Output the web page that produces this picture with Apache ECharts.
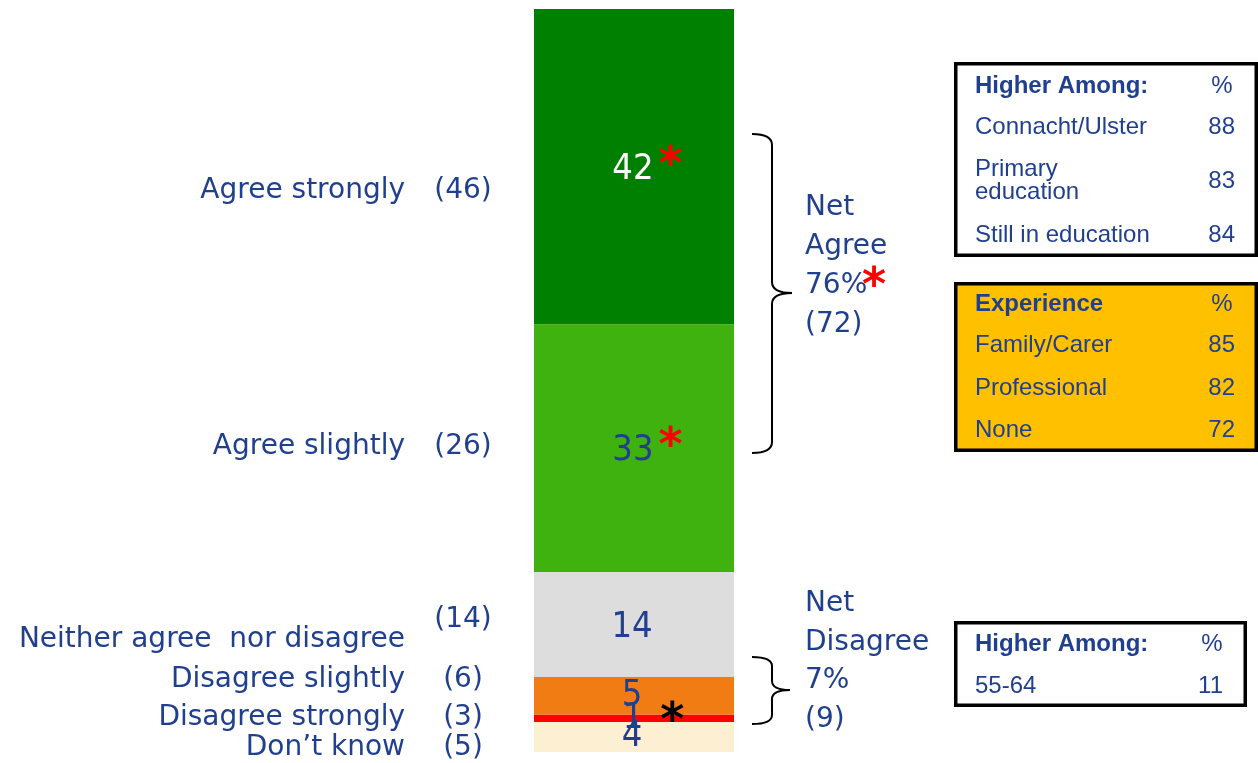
<!DOCTYPE html>
<html><head><meta charset="utf-8">
<script src="https://cdn.jsdelivr.net/npm/echarts@6/dist/echarts.min.js"></script>
<style>html,body{margin:0;padding:0;background:#fff}#c{width:1258px;height:763px}</style>
</head><body><div id="c"></div>
<script>
// ---- data ----
const categories = ['Agree strongly', 'Agree slightly', 'Neither agree  nor disagree', 'Disagree slightly', 'Disagree strongly', 'Don\u2019t know'];
const values = [42, 33, 14, 5, 1, 4];
const previous = [46, 26, 14, 6, 3, 5];
const significance = ['up', 'up', '', '', 'down', ''];
const netAgree = ['Net', 'Agree', '76%', '(72)'];
const netDisagree = ['Net', 'Disagree', '7%', '(9)'];
const higherAmongAgree = [['Connacht/Ulster', 88], ['Primary\neducation', 83], ['Still in education', 84]];
const experienceAgree = [['Family/Carer', 85], ['Professional', 82], ['None', 72]];
const higherAmongDisagree = [['55-64', 11]];

// ---- styles ----
const BLUE = '#203F8F';
const segColors = ['#008000', '#40B20F', '#DDDDDD', '#F27C14', '#FF0000', '#FDEFD1'];
const labelColors = ['#FFFFFF', BLUE, BLUE, BLUE, BLUE, BLUE];
const leftLabelY = [191, 447, 640, 680, 718, 748];
const prevLabelY = [191, 447, 620, 680, 718, 748];
const LF = 'DejaVu Sans';
const TF = 'Liberation Sans, Arial, sans-serif';

const series = [];
for (let i = categories.length - 1; i >= 0; i--) {
  const sig = significance[i];
  series.push({
    name: categories[i],
    type: 'bar',
    stack: 'total',
    barWidth: '100%',
    data: [values[i]],
    itemStyle: { color: segColors[i] },
    label: {
      show: true,
      position: 'inside',
      offset: [-2, i < 3 ? 3 : 0],
      formatter: sig === 'up' ? '{su|}{v|{c}}{ra|*}' : (sig === 'down' ? '{sd|}{v|{c}}{ba|*}' : '{v|{c}}'),
      rich: {
        v: { fontFamily: 'Liberation Sans Narrow, DejaVu Sans Condensed, sans-serif', fontSize: 36, color: labelColors[i] },
        su: { width: 31 },
        sd: { width: 43 },
        ra: { fontFamily: LF, fontWeight: 'bold', fontSize: 46, color: '#FF0000', padding: [0, 0, 5, 5] },
        ba: { fontFamily: LF, fontWeight: 'bold', fontSize: 46, color: '#000000', padding: [9, 0, 0, 17] }
      }
    },
    emphasis: { disabled: true }
  });
}

const graphic = [];
categories.forEach((c, i) => {
  graphic.push({ type: 'text', style: { text: c, x: 405, y: leftLabelY[i], textAlign: 'right', textVerticalAlign: 'middle', fontSize: 28, fontFamily: LF, fill: BLUE } });
  graphic.push({ type: 'text', style: { text: '(' + previous[i] + ')', x: 463, y: prevLabelY[i], textAlign: 'center', textVerticalAlign: 'middle', fontSize: 28, fontFamily: LF, fill: BLUE } });
});
// braces
function brace(xL, xV, xT, yTop, yMid, yBot, r) {
  const st = { stroke: '#000', fill: null, lineWidth: 2 };
  graphic.push({ type: 'bezierCurve', shape: { x1: xL, y1: yTop, cpx1: xV, cpy1: yTop, x2: xV, y2: yTop + r }, style: st });
  graphic.push({ type: 'line', shape: { x1: xV, y1: yTop + r, x2: xV, y2: yMid - r }, style: st });
  graphic.push({ type: 'bezierCurve', shape: { x1: xV, y1: yMid - r, cpx1: xV, cpy1: yMid, x2: xT, y2: yMid }, style: st });
  graphic.push({ type: 'bezierCurve', shape: { x1: xT, y1: yMid, cpx1: xV, cpy1: yMid, x2: xV, y2: yMid + r }, style: st });
  graphic.push({ type: 'line', shape: { x1: xV, y1: yMid + r, x2: xV, y2: yBot - r }, style: st });
  graphic.push({ type: 'bezierCurve', shape: { x1: xV, y1: yBot - r, cpx1: xV, cpy1: yBot, x2: xL, y2: yBot }, style: st });
}
brace(752, 772, 792, 134, 293, 453, 11);
brace(752, 772, 790, 657, 690, 724, 9);
netAgree.forEach((t, i) => {
  graphic.push({ type: 'text', style: { text: t, x: 805, y: 208 + i * 39, textAlign: 'left', textVerticalAlign: 'middle', fontSize: 28, fontFamily: LF, fill: BLUE } });
});
graphic.push({ type: 'text', style: { text: '*', x: 862, y: 288, textAlign: 'left', textVerticalAlign: 'middle', fontSize: 46, fontWeight: 'bold', fontFamily: LF, fill: '#FF0000' } });
netDisagree.forEach((t, i) => {
  graphic.push({ type: 'text', style: { text: t, x: 805, y: 604 + i * 38.5, textAlign: 'left', textVerticalAlign: 'middle', fontSize: 28, fontFamily: LF, fill: BLUE } });
});

function table(x0, y0, x1, y1, fill, header, rows, rowYs, pctX, numX) {
  graphic.push({ type: 'rect', shape: { x: x0 + 1.75, y: y0 + 1.75, width: x1 - x0 - 3.5, height: y1 - y0 - 3.5 }, style: { fill: fill, stroke: '#000', lineWidth: 3.5 } });
  graphic.push({ type: 'text', style: { text: header, x: 975, y: rowYs[0], textAlign: 'left', textVerticalAlign: 'middle', fontSize: 24, fontWeight: 'bold', fontFamily: TF, fill: BLUE } });
  graphic.push({ type: 'text', style: { text: '%', x: pctX, y: rowYs[0], textAlign: 'center', textVerticalAlign: 'middle', fontSize: 24, fontFamily: TF, fill: BLUE } });
  rows.forEach((r, i) => {
    graphic.push({ type: 'text', style: { text: r[0], x: 975, y: rowYs[i + 1], textAlign: 'left', textVerticalAlign: 'middle', fontSize: 24, lineHeight: 23, fontFamily: TF, fill: BLUE } });
    graphic.push({ type: 'text', style: { text: String(r[1]), x: numX, y: rowYs[i + 1], textAlign: 'right', textVerticalAlign: 'middle', fontSize: 24, fontFamily: TF, fill: BLUE } });
  });
}
table(954, 62, 1258, 257, '#FFFFFF', 'Higher Among:', higherAmongAgree, [86, 127, 181, 235], 1222, 1235);
table(954, 282, 1258, 452, '#FFC000', 'Experience', experienceAgree, [304, 345, 388, 430], 1222, 1235);
table(954, 621, 1247, 707, '#FFFFFF', 'Higher Among:', higherAmongDisagree, [644, 686], 1212, 1223);

const chart = echarts.init(document.getElementById('c'), null, { renderer: 'canvas' });
chart.setOption({
  animation: false,
  grid: { left: 534, width: 200, top: 9, height: 743 },
  xAxis: { type: 'category', data: [''], show: false },
  yAxis: { type: 'value', min: 0, max: 99, show: false },
  series: series,
  graphic: graphic
});
</script></body></html>
